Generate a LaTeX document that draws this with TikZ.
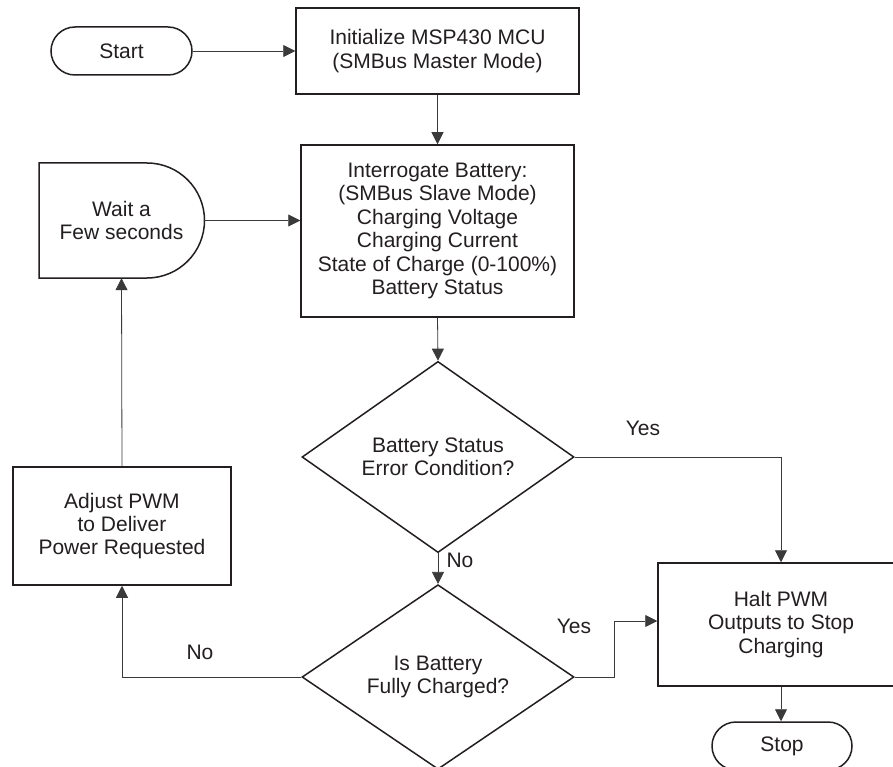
\documentclass[tikz,border=0pt]{standalone}
\usepackage{fontspec}
\setmainfont{Liberation Sans}
\usetikzlibrary{shapes.geometric,shapes.misc,arrows.meta}
\definecolor{ink}{HTML}{231F20}
\definecolor{wire}{HTML}{3A3A3A}
\begin{document}
\begin{tikzpicture}[x=1pt,y=-1pt,
  every node/.style={font=\fontsize{21}{23.4}\selectfont, text=ink, align=center, inner sep=0pt},
  procbox/.style={draw=ink, line width=1.5pt, rectangle},
  termbox/.style={draw=ink, line width=1.5pt, rounded rectangle, minimum width=141pt, minimum height=48pt},
  decbox/.style={draw=ink, line width=1.5pt, diamond, minimum width=272pt, minimum height=183pt},
  wirearrow/.style={draw=wire, line width=0.8pt, -{Triangle[length=12pt,width=12pt]}},
  lbl/.style={font=\fontsize{21}{23.4}\selectfont}
]
\useasboundingbox (0,0) rectangle (893,767);
\clip (0,0) rectangle (893,767);
\fill[white] (0,0) rectangle (893,767);

\node[termbox] (start) at (121.5,51) {Start};
\node[procbox, minimum width=283pt, minimum height=86pt] (init) at (437.5,51) {Initialize MSP430 MCU\\(SMBus Master Mode)};
\node[procbox, minimum width=273pt, minimum height=172pt] (inter) at (437.5,231) {Interrogate Battery:\\(SMBus Slave Mode)\\Charging Voltage\\Charging Current\\State of Charge (0-100\%)\\Battery Status};
% wait (delay shape)
\draw[ink, line width=1.5pt] (39,163) -- (147,163) arc[start angle=90, end angle=-90, radius=57.5pt] -- (39,278) -- cycle;
\node[minimum width=165pt, minimum height=115pt] (wait) at (121.5,220.5) {Wait a\\Few seconds};
\node[procbox, minimum width=218pt, minimum height=118pt] (adjust) at (122,526) {Adjust PWM\\to Deliver\\Power Requested};
\node[decbox] (d1) at (438,457) {Battery Status\\Error Condition?};
\node[decbox] (d2) at (438,677) {Is Battery\\Fully Charged?};
\node[procbox, minimum width=246pt, minimum height=123pt] (halt) at (781,624.5) {Halt PWM\\Outputs to Stop\\Charging};
\node[termbox, minimum width=140pt] (stop) at (782,746) {Stop};

\node[lbl] (yes1) at (643,428) {Yes};
\node[lbl] (no1) at (460,560) {No};
\node[lbl] (yes2) at (574,626) {Yes};
\node[lbl] (no2) at (200,652) {No};

\coordinate (j2) at (614,621);

\draw[wirearrow] (start.east) -- (init.west);
\draw[wirearrow] (init.south) -- (inter.north);
\draw[wirearrow] (wait.east) -- (inter.west |- wait.east);
\draw[wirearrow] (inter.south) -- (d1.north);
\draw[wirearrow] (d1.south) -- (d2.north);
\draw[wirearrow] (d1.east) -| (halt.north);
\draw[wirearrow] (d2.east) -| (j2) -- (halt.west |- j2);
\draw[wirearrow] (d2.west) -| (adjust.south);
\draw[wirearrow] (adjust.north) -- (wait.south);
\draw[wirearrow] (halt.south) -- (stop.north -| halt.south);
\end{tikzpicture}
\end{document}
